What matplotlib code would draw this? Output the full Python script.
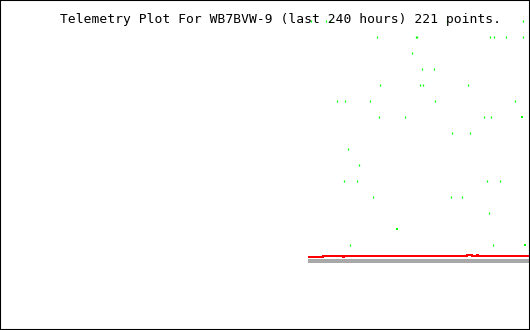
import matplotlib
matplotlib.use("Agg")
import matplotlib.pyplot as plt

# green telemetry samples: (hours ago, level)
green_t = [-99.2, -92.4, -90.6, -37.6, -3.2,
           -69.3, -51.6, -51.2, -18.1, -16.3, -10.9, -3.2,
           -53.4,
           -48.9, -43.5,
           -67.9, -49.8, -48.5, -28.1,
           -87.4, -83.8, -72.5, -43.0, -6.8,
           -68.4, -56.6, -20.8, -17.7,
           -35.3, -27.2,
           -82.4,
           -77.4,
           -84.2, -78.3, -19.5, -13.6,
           -71.1, -35.8, -30.8,
           -18.6,
           -81.5, -16.8]
green_v = [15, 15, 15, 15, 15,
           14, 14, 14, 14, 14, 14, 14,
           13,
           12, 12,
           11, 11, 11, 11,
           10, 10, 10, 10, 10,
           9, 9, 9, 9,
           8, 8,
           7,
           6,
           5, 5, 5, 5,
           4, 4, 4,
           3,
           1, 1]
# a few samples drawn bigger
big_t = [-3.6, -60.2, -2.3]
big_v = [9, 2, 1]

# red channel
red_t = [-100.5, -99.6, -98.7, -97.8, -96.9, -96.0, -95.1, -94.2, -93.7,
         -88.3, -84.7, -84.2, -29.0, -28.5, -26.7, -26.3, -25.4, -24.0,
         -23.6, -23.1, -22.7, 0.0]
red_v = [0.28, 0.25, 0.28, 0.25, 0.22, 0.25, 0.22, 0.25, 0.31,
         0.31, 0.28, 0.31, 0.31, 0.36, 0.36, 0.31, 0.34, 0.36,
         0.31, 0.34, 0.31, 0.31]

base_t = [-100.5, 0.0]
base_v = [0, 0]

title = "Telemetry Plot For WB7BVW-9 (last 240 hours) 221 points."

fig = plt.figure(figsize=(5.3, 3.3), dpi=100)
ax = fig.add_axes([0, 0, 1, 1])
ax.set_xlim(-240, 0)
ax.set_ylim(-69 / 16, 261 / 16)
ax.set_xticks([])
ax.set_yticks([])
for s in ax.spines.values():
    s.set_linewidth(1.5)
    s.set_color("black")

ax.plot(base_t, base_v, color="#a8a8a8", lw=1.5, antialiased=False, solid_capstyle="butt")
ax.plot(red_t, red_v, color="#ff0000", lw=1.4, drawstyle="steps-post",
        antialiased=False, solid_capstyle="butt")
ax.plot(green_t, green_v, ls="none", marker="|", ms=1.6, mew=0.9,
        color="#00ff00", antialiased=False)
ax.plot(big_t, big_v, ls="none", marker="s", ms=1.5, mew=0,
        color="#00ff00", antialiased=False)

fig.text(280 / 530, 1 - 23 / 330, title, ha="center", va="baseline",
         fontsize=9.4, family="DejaVu Sans Mono", color="black")

fig.savefig("out.png", dpi=100)
